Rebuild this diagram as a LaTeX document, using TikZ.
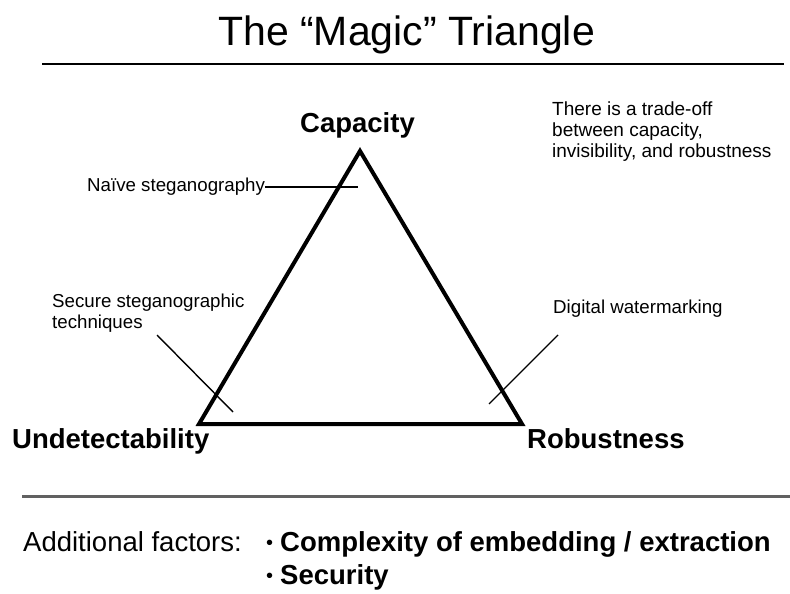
\documentclass[tikz,border=0pt]{standalone}
\usepackage{fontspec}
\setmainfont{Liberation Sans}
\begin{document}
\begin{tikzpicture}[x=1bp,y=-1bp,
  title/.style={inner sep=0pt, anchor=base west, font=\fontsize{41bp}{46bp}\selectfont},
  lbl/.style={inner sep=0pt, align=left, font=\fontsize{18.7bp}{21bp}\selectfont},
  corner/.style={inner sep=0pt, anchor=base west, font=\bfseries\fontsize{27.5bp}{30bp}\selectfont},
  foot/.style={inner sep=0pt, anchor=base west, font=\fontsize{27.5bp}{30bp}\selectfont},
  footb/.style={inner sep=0pt, anchor=base west, font=\bfseries\fontsize{27.5bp}{30bp}\selectfont},
  bul/.style={inner sep=0pt, anchor=base west, font=\fontsize{20bp}{22bp}\selectfont},
  thinline/.style={line width=1.4bp},
  tri/.style={line width=4bp, line join=miter},
]
\useasboundingbox (0,0) rectangle (790,594);
% title
\node[title] (title) at (218,46) {The “Magic” Triangle};
\coordinate (r1a) at (42,64);
\coordinate (r1b) at (784,64);
\draw[line width=2.6bp] (r1a) -- (r1b);
% triangle
\coordinate (A) at (360,151);
\coordinate (B) at (199,424);
\coordinate (C) at (522,424);
\draw[tri] (A) -- (B) -- (C) -- cycle;
% corner labels
\node[corner] (cap) at (300,133) {Capacity};
\node[corner] (und) at (12,448) {Undetectability};
\node[corner] (rob) at (527,448) {Robustness};
% side notes
\node[lbl, anchor=base west] (naive) at (87,192) {Naïve steganography};
\coordinate (nEnd) at (358,186);
\draw[thinline] (naive.east) -- (naive.east -| nEnd);
\node[lbl, anchor=north west] (secure) at (52,293.3) {Secure steganographic\\techniques};
\coordinate (s1) at (157,335);
\coordinate (s2) at (233,412);
\draw[thinline] (s1) -- (s2);
\node[lbl, anchor=base west] (water) at (553,313) {Digital watermarking};
\coordinate (w1) at (558,335);
\coordinate (w2) at (489,404);
\draw[thinline] (w1) -- (w2);
\node[inner sep=0pt, align=left, anchor=north west, font=\fontsize{19bp}{20.8bp}\selectfont] (trade) at (552,102)
  {There is a trade-off\\between capacity,\\invisibility, and robustness};
% bottom
\coordinate (r2a) at (22,496);
\coordinate (r2b) at (790,496);
\draw[line width=3bp, black!62] (r2a) -- (r2b);
\node[foot] (add) at (23,551) {Additional factors:};
\node[bul] (b1) at (266,549) {•};
\node[footb] (i1) at (280,551) {Complexity of embedding / extraction};
\node[bul] (b2) at (266,582) {•};
\node[footb] (i2) at (280,584) {Security};
\end{tikzpicture}
\end{document}
